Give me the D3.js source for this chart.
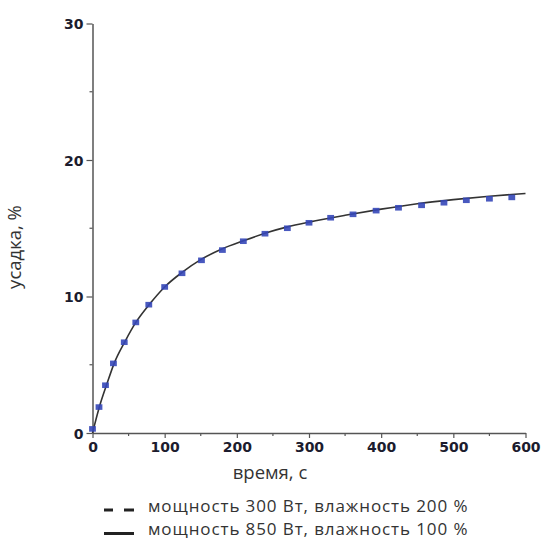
<!DOCTYPE html>
<html><head><meta charset="utf-8">
<script src="https://cdn.jsdelivr.net/npm/d3@7/dist/d3.min.js"></script>
<style>body{margin:0;background:#fff}svg{display:block}</style>
</head><body>
<script>
// ---- data ----
const xTicks = [0,100,200,300,400,500,600];
const yTicks = [0,10,20,30];
const xMinor = [50,150,250,350,450,550];
const yMinor = [5,15,25];
const series300Time = [0,9,18,29,44,60,78,100,124,151,180,209,239,270,300,330,361,393,424,456,487,518,550,581];
const series300Val  = [0.3,1.9,3.5,5.1,6.65,8.1,9.4,10.7,11.7,12.65,13.4,14.05,14.6,15.0,15.4,15.77,16.02,16.29,16.5,16.68,16.87,17.05,17.16,17.26];
const series850Time = [0,10,20,30,45,60,80,100,125,150,180,210,240,270,300,350,400,450,500,550,600];
const series850Val  = [0,2.0,3.6,5.1,6.7,8.1,9.5,10.7,11.8,12.7,13.5,14.1,14.65,15.1,15.45,15.95,16.4,16.8,17.1,17.35,17.55];
const xLabel = "время, с";
const yLabel = "усадка, %";
const legendLabels = ["мощность 300 Вт, влажность 200 %","мощность 850 Вт, влажность 100 %"];

const W=542,H=540;
const svg=d3.select("body").append("svg").attr("width",W).attr("height",H);
const x=d3.scaleLinear().domain([0,600]).range([92.5,525.5]);
const y=d3.scaleLinear().domain([0,30]).range([433,23.5]);

const axisColor="#555";
const tickFont="'DejaVu Sans', Verdana, sans-serif";
const textFont="'Open Sans', 'Noto Sans', sans-serif";

// x axis
const gx=svg.append("g").attr("transform",`translate(0,${y(0)})`)
  .call(d3.axisBottom(x).tickValues(xTicks).tickSize(5).tickSizeOuter(0).tickPadding(4));
gx.append("g").selectAll("line").data(xMinor).join("line")
  .attr("x1",d=>x(d)).attr("x2",d=>x(d)).attr("y1",0).attr("y2",3);
// y axis
const gy=svg.append("g").attr("transform",`translate(${x(0)},0)`)
  .call(d3.axisLeft(y).tickValues(yTicks).tickSize(6).tickSizeOuter(0).tickPadding(3));
gy.append("g").selectAll("line").data(yMinor).join("line")
  .attr("x1",0).attr("x2",-3).attr("y1",d=>y(d)).attr("y2",d=>y(d));
[gx,gy].forEach(g=>{
  g.selectAll("path.domain").attr("stroke",axisColor).attr("stroke-width",1.5);
  g.selectAll("line").attr("stroke",axisColor).attr("stroke-width",1.2);
  g.selectAll("text").attr("font-family",tickFont).attr("font-weight","bold")
    .attr("font-size",14).attr("fill","#1c1c2e");
});
gy.selectAll(".tick text").attr("dy","0.36em");

// solid line
svg.append("path")
  .datum(series850Time.map((t,i)=>[t,series850Val[i]]))
  .attr("fill","none").attr("stroke","#333").attr("stroke-width",1.6)
  .attr("d",d3.line().x(d=>x(d[0])).y(d=>y(d[1])).curve(d3.curveMonotoneX));

// dashed series as small dash marks
const pts=series300Time.map((t,i)=>[t,series300Val[i]]);
svg.append("g").selectAll("rect").data(pts).join("rect")
  .attr("x",d=>x(d[0])-3.4).attr("y",d=>y(d[1])-2.8)
  .attr("width",6.8).attr("height",5.6)
  .attr("fill","#3547b8").attr("opacity",0.9);

// axis labels
svg.append("text").attr("x",270).attr("y",479).attr("text-anchor","middle")
  .attr("font-family",textFont).attr("font-size",18.5).attr("fill","#333").text(xLabel);
svg.append("text").attr("transform","translate(21,247) rotate(-90)").attr("text-anchor","middle")
  .attr("font-family",textFont).attr("font-size",18.5).attr("fill","#333").text(yLabel);

// legend
const lg=svg.append("g");
lg.append("line").attr("x1",104).attr("x2",113).attr("y1",510).attr("y2",510).attr("stroke","#222").attr("stroke-width",3);
lg.append("line").attr("x1",124).attr("x2",134).attr("y1",510).attr("y2",510).attr("stroke","#222").attr("stroke-width",3);
lg.append("line").attr("x1",104).attr("x2",134).attr("y1",533.5).attr("y2",533.5).attr("stroke","#222").attr("stroke-width",3);
lg.selectAll("text").data(legendLabels).join("text")
  .attr("x",148).attr("y",(d,i)=>511.5+i*23.5)
  .attr("font-family",textFont).attr("font-size",17).attr("letter-spacing",0.9)
  .attr("fill","#333").text(d=>d);
</script>
</body></html>
